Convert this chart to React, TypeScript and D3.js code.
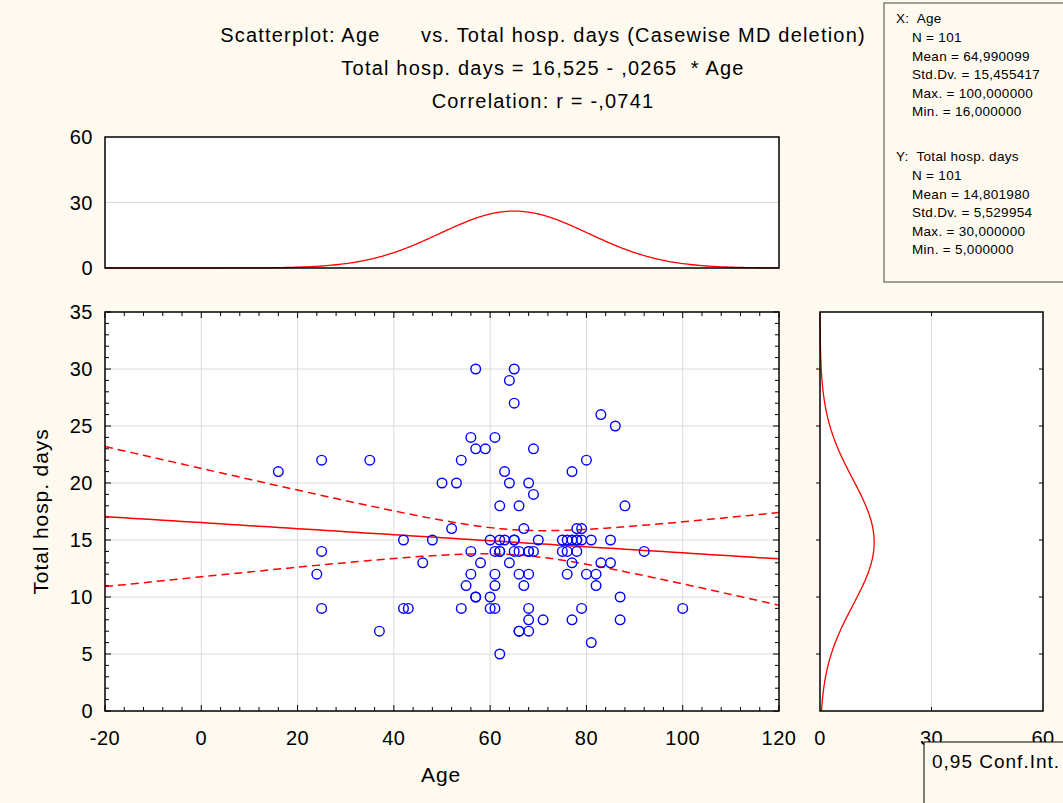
import * as d3 from "d3"

// scatter data (age, total hosp. days)
const age = [
  16, 25, 25, 24, 25, 35, 37, 42, 42, 43, 46, 48, 50, 52, 53,
  57, 65, 64, 65, 83, 86, 56, 61, 57, 59, 69, 54, 80, 63, 77,
  64, 68, 69, 62, 66, 88, 67, 78, 79,
  60, 62, 63, 65, 70, 75, 76, 77, 78, 79, 81, 85,
  56, 61, 62, 65, 66, 68, 69, 75, 76, 78, 92,
  58, 64, 77, 83, 85,
  56, 61, 66, 68, 76, 80, 82,
  55, 61, 67, 82,
  57, 60, 87,
  54, 60, 61, 68, 79, 100,
  68, 71, 77, 87,
  66, 68,
  81,
  62,
  57, 66, 65, 62, 78, 68,
]
const hospDays = [
  21, 22, 14, 12, 9, 22, 7, 15, 9, 9, 13, 15, 20, 16, 20,
  30, 30, 29, 27, 26, 25, 24, 24, 23, 23, 23, 22, 22, 21, 21,
  20, 20, 19, 18, 18, 18, 16, 16, 16,
  15, 15, 15, 15, 15, 15, 15, 15, 15, 15, 15, 15,
  14, 14, 14, 14, 14, 14, 14, 14, 14, 14, 14,
  13, 13, 13, 13, 13,
  12, 12, 12, 12, 12, 12, 12,
  11, 11, 11, 11,
  10, 10, 10,
  9, 9, 9, 9, 9, 9,
  8, 8, 8, 8,
  7, 7,
  6,
  5,
  10, 7, 15, 14, 15, 14,
]

// statistics printed on the chart
const N = 101
const meanX = 64.990099
const sdX = 15.455417
const meanY = 14.80198
const sdY = 5.529954
const rCorr = -0.0741
const intercept = 16.525
const slope = -0.0265

const titleLines = [
  "Scatterplot: Age      vs. Total hosp. days (Casewise MD deletion)",
  "Total hosp. days = 16,525 - ,0265  * Age",
  "Correlation: r = -,0741",
]
const statsX = ["N = 101", "Mean = 64,990099", "Std.Dv. = 15,455417", "Max. = 100,000000", "Min. = 16,000000"]
const statsY = ["N = 101", "Mean = 14,801980", "Std.Dv. = 5,529954", "Max. = 30,000000", "Min. = 5,000000"]

const xTicks = [-20, 0, 20, 40, 60, 80, 100, 120]
const yTicks = [0, 5, 10, 15, 20, 25, 30, 35]
const histTicks = [0, 30, 60]

const W = 1063
const H = 803
const BG = "#FFFAF0"
const FONT = "'Liberation Sans', Arial, sans-serif"
const RED = "#ff0000"
const GRID = "#dcdcdc"

const MAIN = { left: 105, right: 779, top: 312, bottom: 711 }
const TOP = { top: 137, bottom: 268 }
const SIDE = { left: 820, right: 1043 }

const x = d3.scaleLinear().domain([-20, 120]).range([MAIN.left, MAIN.right])
const y = d3.scaleLinear().domain([0, 35]).range([MAIN.bottom, MAIN.top])
const yTop = d3.scaleLinear().domain([0, 60]).range([TOP.bottom, TOP.top])
const xSide = d3.scaleLinear().domain([0, 60]).range([SIDE.left, SIDE.right])

const pdf = (v: number, m: number, s: number) =>
  Math.exp(-0.5 * ((v - m) / s) ** 2) / (s * Math.sqrt(2 * Math.PI))

export default function App() {
  // regression + 95% conf. band for the mean
  const se = sdY * Math.sqrt(((1 - rCorr * rCorr) * (N - 1)) / (N - 2))
  const sxx = (N - 1) * sdX * sdX
  const tCrit = 1.984
  const xs = d3.range(-20, 120.01, 2)
  const half = (v: number) => tCrit * se * Math.sqrt(1 / N + (v - meanX) ** 2 / sxx)
  const fit = (v: number) => intercept + slope * v

  const regPath = d3.line<number>().x((v) => x(v)).y((v) => y(fit(v)))(xs) ?? ""
  const upPath = d3.line<number>().x((v) => x(v)).y((v) => y(fit(v) + half(v)))(xs) ?? ""
  const loPath = d3.line<number>().x((v) => x(v)).y((v) => y(fit(v) - half(v)))(xs) ?? ""

  const topCurve =
    d3.line<number>().x((v) => x(v)).y((v) => yTop(N * 10 * pdf(v, meanX, sdX)))(d3.range(-20, 120.01, 0.5)) ?? ""
  const sideCurve =
    d3.line<number>().x((v) => xSide(N * 2 * pdf(v, meanY, sdY))).y((v) => y(v))(d3.range(0, 35.01, 0.25)) ?? ""

  const xMinor = d3.range(-20, 120.01, 4)
  const yMinor = d3.range(0, 35.01, 1)

  return (
    <svg
      width={W}
      height={H}
      style={{ position: "absolute", left: 0, top: 0, display: "block" }}
      fontFamily={FONT}
    >
      <rect width={W} height={H} fill={BG} />

      {/* titles */}
      {titleLines.map((t, i) => (
        <text key={i} x={543} y={42 + i * 33} textAnchor="middle" fontSize={20} letterSpacing={1.2} style={{ whiteSpace: "pre" }}>
          {t}
        </text>
      ))}

      {/* stats box */}
      <g fontSize={13.5} letterSpacing={0.3}>
        <rect x={884} y={3} width={200} height={279} fill={BG} stroke="#444" />
        <text x={896} y={23} style={{ whiteSpace: "pre" }}>X:  Age</text>
        {statsX.map((t, i) => (
          <text key={"sx" + i} x={912} y={42 + i * 18.6}>{t}</text>
        ))}
        <text x={896} y={161} style={{ whiteSpace: "pre" }}>Y:  Total hosp. days</text>
        {statsY.map((t, i) => (
          <text key={"sy" + i} x={912} y={180 + i * 18.6}>{t}</text>
        ))}
      </g>

      {/* top histogram panel */}
      <rect x={MAIN.left} y={TOP.top} width={MAIN.right - MAIN.left} height={TOP.bottom - TOP.top} fill="#fff" />
      <line x1={MAIN.left} x2={MAIN.right} y1={yTop(30)} y2={yTop(30)} stroke={GRID} />
      <path d={topCurve} fill="none" stroke={RED} strokeWidth={1.3} />
      <rect x={MAIN.left} y={TOP.top} width={MAIN.right - MAIN.left} height={TOP.bottom - TOP.top} fill="none" stroke="#000" strokeWidth={1.5} />
      {histTicks.map((t) => (
        <text key={"ht" + t} x={93} y={yTop(t) + 7} textAnchor="end" fontSize={20} letterSpacing={0.5}>{t}</text>
      ))}

      {/* main scatter panel */}
      <rect x={MAIN.left} y={MAIN.top} width={MAIN.right - MAIN.left} height={MAIN.bottom - MAIN.top} fill="#fff" />
      {xTicks.slice(1, -1).map((t) => (
        <line key={"gx" + t} x1={x(t)} x2={x(t)} y1={MAIN.top} y2={MAIN.bottom} stroke={GRID} />
      ))}
      {yTicks.slice(1, -1).map((t) => (
        <line key={"gy" + t} x1={MAIN.left} x2={MAIN.right} y1={y(t)} y2={y(t)} stroke={GRID} />
      ))}
      {xMinor.map((t) => {
        const len = t % 20 === 0 ? 6 : 4
        return (
          <g key={"mx" + t} stroke="#000">
            <line x1={x(t)} x2={x(t)} y1={MAIN.bottom} y2={MAIN.bottom - len} />
            <line x1={x(t)} x2={x(t)} y1={MAIN.top} y2={MAIN.top + len} />
          </g>
        )
      })}
      {yMinor.map((t) => {
        const len = t % 5 === 0 ? 6 : 4
        return (
          <g key={"my" + t} stroke="#000">
            <line x1={MAIN.left} x2={MAIN.left + len} y1={y(t)} y2={y(t)} />
            <line x1={MAIN.right} x2={MAIN.right - len} y1={y(t)} y2={y(t)} />
          </g>
        )
      })}
      <path d={upPath} fill="none" stroke={RED} strokeWidth={1.5} strokeDasharray="8,5" />
      <path d={loPath} fill="none" stroke={RED} strokeWidth={1.5} strokeDasharray="8,5" />
      <path d={regPath} fill="none" stroke={RED} strokeWidth={1.5} />
      {age.map((a, i) => (
        <circle key={"p" + i} cx={x(a)} cy={y(hospDays[i])} r={4.8} fill="none" stroke="#0000ff" strokeWidth={1.4} />
      ))}
      <rect x={MAIN.left} y={MAIN.top} width={MAIN.right - MAIN.left} height={MAIN.bottom - MAIN.top} fill="none" stroke="#000" strokeWidth={1.5} />
      {xTicks.map((t) => (
        <text key={"xt" + t} x={x(t)} y={745} textAnchor="middle" fontSize={20} letterSpacing={0.5}>{t}</text>
      ))}
      {yTicks.map((t) => (
        <text key={"yt" + t} x={93} y={y(t) + 7} textAnchor="end" fontSize={20} letterSpacing={0.5}>{t}</text>
      ))}
      <text x={441} y={782} textAnchor="middle" fontSize={21} letterSpacing={0.8}>Age</text>
      <text
        transform={`translate(48, ${(MAIN.top + MAIN.bottom) / 2}) rotate(-90)`}
        textAnchor="middle"
        fontSize={21}
        letterSpacing={0.9}
      >
        Total hosp. days
      </text>

      {/* right histogram panel */}
      <rect x={SIDE.left} y={MAIN.top} width={SIDE.right - SIDE.left} height={MAIN.bottom - MAIN.top} fill="#fff" />
      <line x1={xSide(30)} x2={xSide(30)} y1={MAIN.top} y2={MAIN.bottom} stroke={GRID} />
      {yTicks.slice(1, -1).map((t) => (
        <g key={"sy" + t} stroke="#000">
          <line x1={SIDE.left} x2={SIDE.left - 4} y1={y(t)} y2={y(t)} />
          <line x1={SIDE.right} x2={SIDE.right - 4} y1={y(t)} y2={y(t)} />
        </g>
      ))}
      <line x1={xSide(30)} x2={xSide(30)} y1={MAIN.top} y2={MAIN.top + 4} stroke="#000" />
      <line x1={xSide(30)} x2={xSide(30)} y1={MAIN.bottom} y2={MAIN.bottom - 4} stroke="#000" />
      <path d={sideCurve} fill="none" stroke={RED} strokeWidth={1.3} />
      <rect x={SIDE.left} y={MAIN.top} width={SIDE.right - SIDE.left} height={MAIN.bottom - MAIN.top} fill="none" stroke="#000" strokeWidth={1.5} />
      {histTicks.map((t) => (
        <text key={"st" + t} x={xSide(t)} y={745} textAnchor="middle" fontSize={20} letterSpacing={0.5}>{t}</text>
      ))}

      {/* legend */}
      <rect x={924} y={742} width={200} height={100} fill={BG} stroke="#000" />
      <text x={932} y={768} fontSize={19} letterSpacing={1}>0,95 Conf.Int.</text>
    </svg>
  )
}
